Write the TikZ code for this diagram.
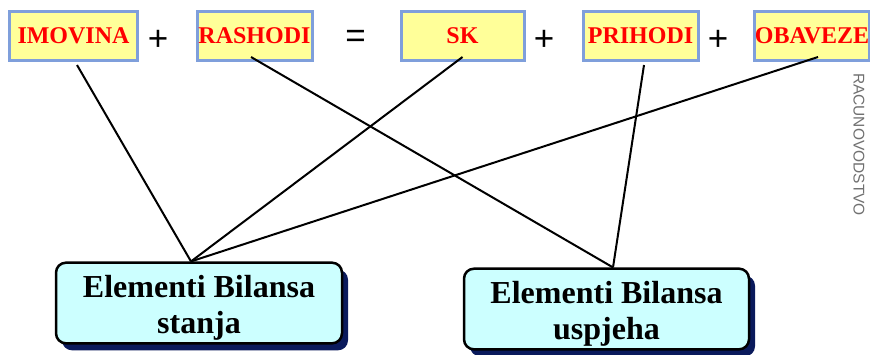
\documentclass[tikz,border=0pt]{standalone}
\usepackage{fontspec}
\setmainfont{Liberation Serif}
\setsansfont{Liberation Sans}
\usetikzlibrary{shadows}
\definecolor{okvir}{HTML}{7F9FDB}
\definecolor{zuta}{HTML}{FFFF99}
\definecolor{plava}{HTML}{CCFFFF}
\definecolor{sjena}{HTML}{0A1A5C}
\definecolor{siva}{HTML}{707070}

\begin{document}
\begin{tikzpicture}[x=1pt, y=-1pt, -, auto,
konto/.style ={line width=3pt, rectangle, draw=okvir, fill=zuta, inner sep=0pt, minimum height=49pt, text=red, font=\fontsize{24}{28}\selectfont\bfseries},
znak/.style ={inner sep=0pt, font=\sffamily\fontsize{35}{40}\selectfont},
element/.style ={line width=2.5pt, draw=black, fill=plava, rounded corners=10pt, minimum width=286pt, minimum height=80pt, align=center, text height=67pt, text depth=7pt, font=\fontsize{32}{36}\selectfont\bfseries, drop shadow={shadow xshift=6pt, shadow yshift=-7pt, fill=sjena, opacity=1}},
veza/.style ={line width=2pt, black}]

\useasboundingbox (0,0) rectangle (870,354);

\node[konto, minimum width=128pt] (imovina) at (73.5,36) {IMOVINA};
\node[znak] (plus1) at (158,40.5) {+};
\node[konto, minimum width=115pt] (rashodi) at (254.5,36) {RASHODI};
\node[znak] (jednako) at (355.5,39) {=};
\node[konto, minimum width=123pt] (sk) at (462.5,36) {SK};
\node[znak] (plus2) at (544,40.5) {+};
\node[konto, minimum width=115pt] (prihodi) at (640.5,36) {PRIHODI};
\node[znak] (plus3) at (718,40.5) {+};
\node[konto, minimum width=111pt] (obaveze) at (812,36) {OBAVEZE};

\node[element] (stanja) at (199,303) {Elementi Bilansa\\stanja};
\node[element, minimum width=285pt] (uspjeha) at (606.5,309) {Elementi Bilansa\\uspjeha};

\draw[veza] ([xshift=3.5pt,yshift=-3pt]imovina.south) -- ([xshift=-8pt]stanja.north);
\draw[veza] ([xshift=-3.5pt,yshift=5pt]rashodi.south) -- ([xshift=6.5pt]uspjeha.north);
\draw[veza] ([yshift=5pt]sk.south) -- ([xshift=-8pt]stanja.north);
\draw[veza] ([xshift=3.5pt,yshift=-3pt]prihodi.south) -- ([xshift=6.5pt]uspjeha.north);
\draw[veza] ([xshift=6pt,yshift=5pt]obaveze.south) -- ([xshift=-8pt]stanja.north);

\node[rotate=-90, text=siva, font=\sffamily\fontsize{15.5}{18}\selectfont] (naslov) at (859,144.5) {RACUNOVODSTVO};

\end{tikzpicture}
\end{document}
